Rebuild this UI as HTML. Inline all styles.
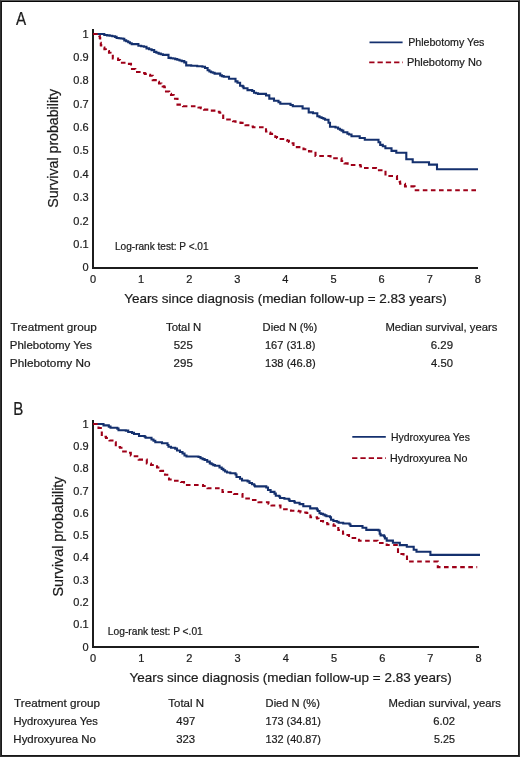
<!DOCTYPE html>
<html><head><meta charset="utf-8"><style>
html,body{margin:0;padding:0;background:#fff;}
.wrap{position:relative;width:520px;height:757px;overflow:hidden;background:#fff;}
.frame{position:absolute;left:0;top:0;width:520px;height:757px;box-sizing:border-box;border:1px solid #303030;border-top-color:#5a5a5a;border-right-color:#333;}
.frame2{position:absolute;left:1px;top:1px;width:518px;height:755px;box-sizing:border-box;border:1px solid #181818;border-top-color:#050505;border-left-color:#1a1a1a;border-right-color:#1e1e1e;}
svg{position:absolute;left:0;top:0;}
.tx{filter:grayscale(1);}
text{font-family:"Liberation Sans", sans-serif;fill:#1c1c1c;stroke:#1c1c1c;stroke-width:0.22px;}
</style></head><body><div class="wrap">
<svg width="520" height="757" viewBox="0 0 520 757">
<rect x="92" y="29" width="2" height="240" fill="#1c1c1c"/>
<rect x="92" y="267" width="386" height="2" fill="#1c1c1c"/>
<path d="M369.5 42.4H402.6" stroke="#14306e" stroke-width="1.8" fill="none"/>
<path d="M369.2 62.3H403.0" stroke="#9e0018" stroke-width="1.8" fill="none" stroke-dasharray="5.3 3"/>
<path d="M93.0 34.0H103.5H104.3V35.0H107.0V35.4H109.7V35.8H112.3V36.3H115.0V36.9H116.6V38.0H118.7V38.3H120.7V38.5H122.8V38.8H124.3V40.4H126.2V41.3H128.2V42.3H129.9V43.2H131.7V44.1H138.4V45.8H141.2V46.2H143.9V46.7H146.5V48.4H149.1V49.2H151.6V50.1H154.2V51.9H156.4V52.8H158.6V53.6H160.8V54.2H162.9V54.9H168.5V57.9H170.8V58.2H173.0V58.5H175.2V59.1H177.3V59.8H179.5V60.5H181.7V61.1H184.3V62.4H186.2V63.7V65.4H191.2V65.8H197.2V66.3H202.4V66.8H205.0V68.0H207.6V70.2H209.4V71.5H211.1V72.2H212.8V72.8H214.6V73.6H218.5H220.2V75.4H221.9V76.1H223.7V76.7H229.0V78.8H235.5V81.4H237.5V82.7H240.1V85.7H242.7V86.6H243.6V88.2H247.5V90.1H252.2V91.0H254.0V92.7H256.0V93.3H258.0V93.9H266.0V95.4H269.3V98.6H274.0V100.7H278.5V102.3H280.3V103.8H290.5V105.0H292.8V106.3H300.0H302.6V108.5H308.7V112.4H313.0V113.3H317.3V116.3H319.5V117.2H321.6V118.0H323.4V118.8H325.1V119.7H328.5V122.8H330.0V126.7H335.5V127.5H338.1V128.8H339.9V129.7H341.6V130.6H343.3V132.3H345.6H347.4V133.7H349.1V134.5H351.5V136.3H359.7V138.0H364.8V139.7H377.6H378.5V142.3H380.2V144.9H382.8V146.2H385.4V148.3H391.5V150.9H396.3V152.8H406.3V159.2H412.7V162.2H429.0V164.6H437.0V169.2H478.0" stroke="#14306e" stroke-width="2.1" fill="none" stroke-linejoin="miter"/>
<path d="M93.0 34.0H98.8H99.3V36.0H99.8V38.0H100.2V40.4H100.5V42.7H100.8V45.1H101.2V47.5H103.0H104.4V49.2H105.8V51.0H107.4H109.0V52.8H110.5V54.5H112.8V58.5H116.2H118.1V60.0H120.0V61.5H120.5V62.8H125.8V63.9H128.0H131.0V65.5H132.0V69.0H135.3V72.0H142.0V73.0H144.8V73.9H147.5V74.8H150.1V75.8H152.7V76.9V80.1H157.3H158.2V81.8H159.0V83.5H161.4V85.1H162.7V86.4H164.3V87.2H166.0V88.0V91.5H169.2V93.8H171.0V95.0H173.7V97.0H175.0V98.8H177.5V104.6H183.0V106.2H198.5V107.5H200.8V108.2H203.0V108.8H204.0V109.6H210.5V110.6H217.5V111.7H219.5V112.8H221.5V114.0H223.2V119.5H233.0V121.2H235.4V121.8H237.9V122.5H240.5V122.9H245.5V125.2H251.0V126.5H253.0V127.2H266.0V131.5H268.6V132.6H270.3V133.9H275.3V137.0H277.0V138.0H278.6V139.0H285.5V140.0H287.2V140.8H288.9V142.0H290.7V143.2H293.5V147.1H303.5V149.3H309.0V151.4H315.5V156.0H330.5V158.3H341.5V161.0H344.5V163.4H347.6V165.0H360.5V166.5H363.6V168.0H376.0V170.3H385.5V176.0H397.0V179.0H399.7V181.6H400.1V183.8H405.0V186.4H414.5V190.2H478.2" stroke="#9e0018" stroke-width="2.1" fill="none" stroke-dasharray="4.6 3.5" stroke-linejoin="miter"/>
<rect x="92" y="420" width="2" height="228" fill="#1c1c1c"/>
<rect x="92" y="646" width="387" height="2" fill="#1c1c1c"/>
<path d="M352.3 436.9H385.8" stroke="#14306e" stroke-width="1.8" fill="none"/>
<path d="M352.1 458.2H386.0" stroke="#9e0018" stroke-width="1.8" fill="none" stroke-dasharray="5.3 3"/>
<path d="M93.0 424.0H103.5V425.4H108.8V426.6H110.5V427.8H117.3V428.6H118.5V430.2H125.8V430.6H128.2V432.0H132.0V432.9H134.0V434.0H139.0V436.0H144.7V436.8H145.6V437.7H151.5V439.5H153.5V440.8H155.3V442.3H162.0V443.2H167.5V445.0H168.5V446.8H171.0V447.7H175.2V448.6H177.0V450.5H180.0V452.0H182.5V453.5H184.5V455.5H186.5V456.5H198.5V457.0H200.5V458.3H202.6V459.1H204.6V460.0H207.2V461.6H209.8V463.4H211.6V464.2H213.3V465.1H215.0V465.8H218.2H219.5V467.5H221.7V468.9H223.4V470.2H225.1V471.5H227.0V472.5H230.3V473.2H235.5V474.5H236.5V477.0H240.0V478.8H242.0V480.5H247.6V481.4H249.5V483.0H252.0V484.3H254.2V485.5H255.0V486.4H266.3V487.5H268.0V490.0H270.6V491.9H274.5V493.6H275.8V495.7H279.2V496.5H280.1V498.0H284.4V498.8H288.8V499.6H289.6V501.0H294.0V501.5H294.8V502.8H299.6V504.1H303.3V506.3H310.2V508.4H316.9V509.5H317.8V511.0H319.5V513.2H321.2V513.9H323.0V514.5H324.7V515.4H326.4V516.2H330.0V517.3H331.0V519.7H333.4V521.0H336.8V521.8H338.6V522.7H343.2V523.5H349.5V524.5H350.5V526.0H362.5V527.8H366.3V529.9H378.5V530.5H379.7V533.7H380.6V535.4H384.1V536.5H384.9V538.4H386.7V540.6H392.9V542.7H399.8V545.1H406.8V546.7H413.7V549.7H416.5V551.8H430.4V554.9H480.0" stroke="#14306e" stroke-width="2.1" fill="none" stroke-linejoin="miter"/>
<path d="M93.0 424.0H98.5V428.0H100.8V430.0H101.8V436.8H106.0V438.0H109.5V440.5H114.5V442.3H115.8V447.0H120.0V447.7H123.2V451.5H128.0V452.8H130.8V455.4H133.5V456.2H138.7V459.6H146.8V463.5H151.0V465.0H155.0V466.3H157.0V467.5H159.5V469.0H160.3V470.9H165.0V474.8H169.0V479.5H174.0V480.7H181.0V482.0H184.0V484.5V485.0H203.0V486.0H206.0V487.5H207.5V488.3H222.5V492.0H234.0V494.0H242.5V498.5H253.0V500.0H258.5V502.2H268.5V503.8H271.5V505.5H280.5V507.5H283.0V509.3H291.0V510.7H298.5V511.3H300.5V512.5H306.5V513.0H309.5V514.0H310.4V517.3H317.0V518.5H318.5V521.0H323.0V521.5H325.0V523.0H327.3V524.3H333.5V525.7H338.3V530.0H343.0V533.8H347.5V535.0H349.0V538.0H359.0V540.7H377.5V543.0H386.7V545.0H398.0V554.0H403.5V555.5H407.0V561.5H437.8V567.1H477.2" stroke="#9e0018" stroke-width="2.1" fill="none" stroke-dasharray="4.6 3.5" stroke-linejoin="miter"/>
</svg>
<svg class="tx" width="520" height="757" viewBox="0 0 520 757">
<text x="88.6" y="271.3" font-size="11" text-anchor="end" >0</text>
<text x="88.6" y="247.9" font-size="11" text-anchor="end" >0.1</text>
<text x="88.6" y="224.6" font-size="11" text-anchor="end" >0.2</text>
<text x="88.6" y="201.2" font-size="11" text-anchor="end" >0.3</text>
<text x="88.6" y="177.8" font-size="11" text-anchor="end" >0.4</text>
<text x="88.6" y="154.4" font-size="11" text-anchor="end" >0.5</text>
<text x="88.6" y="131.1" font-size="11" text-anchor="end" >0.6</text>
<text x="88.6" y="107.7" font-size="11" text-anchor="end" >0.7</text>
<text x="88.6" y="84.3" font-size="11" text-anchor="end" >0.8</text>
<text x="88.6" y="61.0" font-size="11" text-anchor="end" >0.9</text>
<text x="88.6" y="37.6" font-size="11" text-anchor="end" >1</text>
<text x="93.0" y="282.8" font-size="11" text-anchor="middle" >0</text>
<text x="141.1" y="282.8" font-size="11" text-anchor="middle" >1</text>
<text x="189.2" y="282.8" font-size="11" text-anchor="middle" >2</text>
<text x="237.3" y="282.8" font-size="11" text-anchor="middle" >3</text>
<text x="285.4" y="282.8" font-size="11" text-anchor="middle" >4</text>
<text x="333.5" y="282.8" font-size="11" text-anchor="middle" >5</text>
<text x="381.6" y="282.8" font-size="11" text-anchor="middle" >6</text>
<text x="429.7" y="282.8" font-size="11" text-anchor="middle" >7</text>
<text x="477.8" y="282.8" font-size="11" text-anchor="middle" >8</text>
<text x="15.90" y="24.5" font-size="17.5" textLength="10.13" lengthAdjust="spacingAndGlyphs" >A</text>
<g transform="translate(58.2,207.2) rotate(-90)"><text x="-0.64" y="0" font-size="14" textLength="118.91" lengthAdjust="spacingAndGlyphs" >Survival probability</text></g>
<text x="114.99" y="249.7" font-size="10" textLength="93.59" lengthAdjust="spacingAndGlyphs" >Log-rank test: P &lt;.01</text>
<text x="124.16" y="302.7" font-size="13.4" textLength="322.50" lengthAdjust="spacingAndGlyphs" >Years since diagnosis (median follow-up = 2.83 years)</text>
<text x="408.15" y="45.8" font-size="10.5" textLength="76.24" lengthAdjust="spacingAndGlyphs" >Phlebotomy Yes</text>
<text x="406.92" y="65.5" font-size="10.5" textLength="75.04" lengthAdjust="spacingAndGlyphs" >Phlebotomy No</text>
<text x="10.47" y="331.1" font-size="11.3" textLength="86.31" lengthAdjust="spacingAndGlyphs" >Treatment group</text>
<text x="9.88" y="348.8" font-size="11.3" textLength="82.04" lengthAdjust="spacingAndGlyphs" >Phlebotomy Yes</text>
<text x="9.86" y="366.7" font-size="11.3" textLength="80.64" lengthAdjust="spacingAndGlyphs" >Phlebotomy No</text>
<text x="165.97" y="331.1" font-size="11.1" textLength="35.26" lengthAdjust="spacingAndGlyphs" >Total N</text>
<text x="173.74" y="348.8" font-size="11.1" textLength="19.05" lengthAdjust="spacingAndGlyphs" >525</text>
<text x="173.63" y="366.8" font-size="11.1" textLength="19.17" lengthAdjust="spacingAndGlyphs" >295</text>
<text x="262.61" y="331.1" font-size="11.1" textLength="54.62" lengthAdjust="spacingAndGlyphs" >Died N (%)</text>
<text x="264.97" y="348.8" font-size="11.1" textLength="50.44" lengthAdjust="spacingAndGlyphs" >167 (31.8)</text>
<text x="264.97" y="366.8" font-size="11.1" textLength="50.74" lengthAdjust="spacingAndGlyphs" >138 (46.8)</text>
<text x="385.40" y="331.1" font-size="11.1" textLength="111.98" lengthAdjust="spacingAndGlyphs" >Median survival, years</text>
<text x="430.73" y="348.8" font-size="11.1" textLength="22.30" lengthAdjust="spacingAndGlyphs" >6.29</text>
<text x="431.08" y="366.8" font-size="11.1" textLength="21.83" lengthAdjust="spacingAndGlyphs" >4.50</text>
<text x="88.6" y="650.5" font-size="11" text-anchor="end" >0</text>
<text x="88.6" y="628.2" font-size="11" text-anchor="end" >0.1</text>
<text x="88.6" y="605.9" font-size="11" text-anchor="end" >0.2</text>
<text x="88.6" y="583.6" font-size="11" text-anchor="end" >0.3</text>
<text x="88.6" y="561.3" font-size="11" text-anchor="end" >0.4</text>
<text x="88.6" y="539.1" font-size="11" text-anchor="end" >0.5</text>
<text x="88.6" y="516.8" font-size="11" text-anchor="end" >0.6</text>
<text x="88.6" y="494.5" font-size="11" text-anchor="end" >0.7</text>
<text x="88.6" y="472.2" font-size="11" text-anchor="end" >0.8</text>
<text x="88.6" y="449.9" font-size="11" text-anchor="end" >0.9</text>
<text x="88.6" y="427.6" font-size="11" text-anchor="end" >1</text>
<text x="93.0" y="661.9" font-size="11" text-anchor="middle" >0</text>
<text x="141.2" y="661.9" font-size="11" text-anchor="middle" >1</text>
<text x="189.4" y="661.9" font-size="11" text-anchor="middle" >2</text>
<text x="237.6" y="661.9" font-size="11" text-anchor="middle" >3</text>
<text x="285.8" y="661.9" font-size="11" text-anchor="middle" >4</text>
<text x="334.0" y="661.9" font-size="11" text-anchor="middle" >5</text>
<text x="382.2" y="661.9" font-size="11" text-anchor="middle" >6</text>
<text x="430.4" y="661.9" font-size="11" text-anchor="middle" >7</text>
<text x="478.6" y="661.9" font-size="11" text-anchor="middle" >8</text>
<text x="13.19" y="414.8" font-size="17.5" textLength="10.10" lengthAdjust="spacingAndGlyphs" >B</text>
<g transform="translate(62.6,595.9) rotate(-90)"><text x="-0.64" y="0" font-size="14" textLength="120.01" lengthAdjust="spacingAndGlyphs" >Survival probability</text></g>
<text x="107.88" y="634.5" font-size="10" textLength="94.91" lengthAdjust="spacingAndGlyphs" >Log-rank test: P &lt;.01</text>
<text x="129.46" y="682.2" font-size="13.4" textLength="322.30" lengthAdjust="spacingAndGlyphs" >Years since diagnosis (median follow-up = 2.83 years)</text>
<text x="390.97" y="440.5" font-size="10.4" textLength="78.90" lengthAdjust="spacingAndGlyphs" >Hydroxyurea Yes</text>
<text x="390.14" y="461.5" font-size="10.4" textLength="77.29" lengthAdjust="spacingAndGlyphs" >Hydroxyurea No</text>
<text x="14.07" y="707.3" font-size="11.3" textLength="85.91" lengthAdjust="spacingAndGlyphs" >Treatment group</text>
<text x="13.41" y="725.3" font-size="11.3" textLength="84.49" lengthAdjust="spacingAndGlyphs" >Hydroxyurea Yes</text>
<text x="13.39" y="742.7" font-size="11.3" textLength="82.58" lengthAdjust="spacingAndGlyphs" >Hydroxyurea No</text>
<text x="168.27" y="707.3" font-size="11.1" textLength="35.78" lengthAdjust="spacingAndGlyphs" >Total N</text>
<text x="176.37" y="725.3" font-size="11.1" textLength="18.83" lengthAdjust="spacingAndGlyphs" >497</text>
<text x="176.15" y="742.7" font-size="11.1" textLength="18.95" lengthAdjust="spacingAndGlyphs" >323</text>
<text x="265.61" y="707.3" font-size="11.1" textLength="54.31" lengthAdjust="spacingAndGlyphs" >Died N (%)</text>
<text x="265.38" y="725.3" font-size="11.1" textLength="55.62" lengthAdjust="spacingAndGlyphs" >173 (34.81)</text>
<text x="265.38" y="742.7" font-size="11.1" textLength="55.62" lengthAdjust="spacingAndGlyphs" >132 (40.87)</text>
<text x="388.60" y="707.3" font-size="11.1" textLength="112.28" lengthAdjust="spacingAndGlyphs" >Median survival, years</text>
<text x="433.24" y="725.3" font-size="11.1" textLength="21.84" lengthAdjust="spacingAndGlyphs" >6.02</text>
<text x="434.07" y="742.7" font-size="11.1" textLength="20.87" lengthAdjust="spacingAndGlyphs" >5.25</text>
</svg>
<div class="frame"></div><div class="frame2"></div>
</div></body></html>
